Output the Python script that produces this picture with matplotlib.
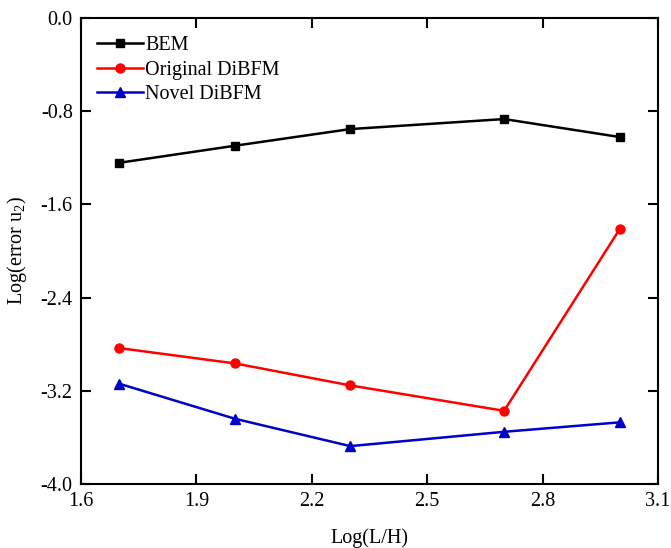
import matplotlib
matplotlib.use("Agg")
import matplotlib.pyplot as plt

plt.rcParams['font.family'] = ['Liberation Serif', 'DejaVu Serif']
plt.rcParams['mathtext.fontset'] = 'custom'
plt.rcParams['mathtext.rm'] = 'Liberation Serif'
plt.rcParams['mathtext.it'] = 'Liberation Serif:italic'

log_lh = [1.7, 2.0, 2.3, 2.7, 3.0]
bem = [-1.243, -1.097, -0.954, -0.868, -1.022]
original_dibfm = [-2.834, -2.965, -3.154, -3.372, -1.815]
novel_dibfm = [-3.14, -3.44, -3.675, -3.552, -3.471]

x_ticks = [1.6, 1.9, 2.2, 2.5, 2.8, 3.1]
y_ticks = [-4.0, -3.2, -2.4, -1.6, -0.8, 0.0]

fig = plt.figure(figsize=(6.71, 5.48), dpi=100)
ax = fig.add_axes([0.1207, 0.1168, 0.8599, 0.8505])

ax.plot(log_lh, bem, color='black', lw=1.8, marker='s', ms=5.5, label='BEM')
ax.plot(log_lh, original_dibfm, color='#ff0000', lw=1.8, marker='o', ms=6.5,
        label='Original DiBFM')
ax.plot(log_lh, novel_dibfm, color='#0000c8', lw=1.8, marker='^', ms=6.5,
        label='Novel DiBFM')

ax.set_xlim(1.6, 3.1)
ax.set_ylim(-4.0, 0.0)
ax.set_xticks(x_ticks)
ax.set_yticks(y_ticks)
ax.set_xticklabels([f'{v:.1f}' for v in x_ticks])
ax.set_yticklabels([f'{v:.1f}' for v in y_ticks])

ax.tick_params(direction='in', length=7, width=1.5, labelsize=14.5,
               top=True, right=True, pad=6)
for s in ax.spines.values():
    s.set_linewidth(1.5)

ax.set_xlabel('Log(L/H)', fontsize=14.5, labelpad=12)
ax.set_ylabel('Log(error u$_2$)', fontsize=14.5, labelpad=8)

ax.legend(loc='upper left', frameon=False, fontsize=14.5, handlelength=2.3,
          handletextpad=0.1, labelspacing=0.25, borderaxespad=0.4,
          bbox_to_anchor=(0.0, 0.995))

fig.savefig('out.png', dpi=100)
